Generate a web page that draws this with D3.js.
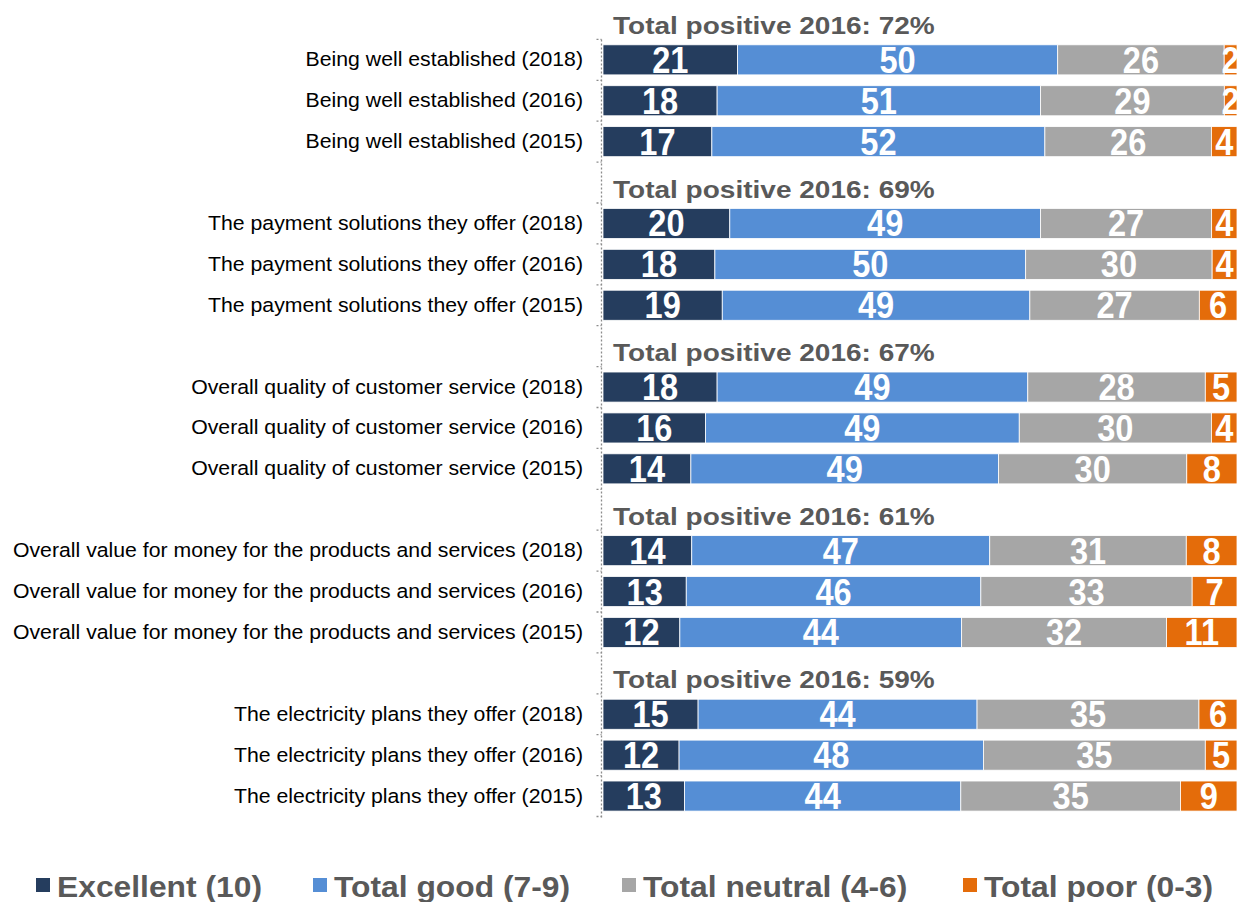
<!DOCTYPE html>
<html>
<head>
<meta charset="utf-8">
<script src="https://cdn.jsdelivr.net/npm/d3@7"></script>
<style>
  html, body { margin: 0; padding: 0; background: #fff; }
  svg { display: block; }
</style>
</head>
<body>
<svg id="chart" width="1243" height="902"></svg>
<script>
const groupNames = [
  "Being well established",
  "The payment solutions they offer",
  "Overall quality of customer service",
  "Overall value for money for the products and services",
  "The electricity plans they offer"
];
const years = ["2018", "2016", "2015"];
const totalPositive2016 = [72, 69, 67, 61, 59];
const seriesNames = ["Excellent (10)", "Total good (7-9)", "Total neutral (4-6)", "Total poor (0-3)"];
const excellent = [21, 18, 17, 20, 18, 19, 18, 16, 14, 14, 13, 12, 15, 12, 13];
const good      = [50, 51, 52, 49, 50, 49, 49, 49, 49, 47, 46, 44, 44, 48, 44];
const neutral   = [26, 29, 26, 27, 30, 27, 28, 30, 30, 31, 33, 32, 35, 35, 35];
const poor      = [ 2,  2,  4,  4,  4,  6,  5,  4,  8,  8,  7, 11,  6,  5,  9];
const colors = ["#253D5E", "#558ED5", "#A6A6A6", "#E46C0A"];

const rows = [];
let k = 0;
groupNames.forEach((g, gi) => {
  rows.push({ id: "h" + gi, type: "header", text: "Total positive 2016: " + totalPositive2016[gi] + "%" });
  years.forEach(y => {
    const vals = [excellent[k], good[k], neutral[k], poor[k]];
    rows.push({ id: "r" + k, type: "bar", label: g + " (" + y + ")", vals });
    k++;
  });
});

const FONT = "'Liberation Sans', Arial, sans-serif";
const svg = d3.select("#chart");
const x0 = 603, x1 = 1237;
const x = d3.scaleLinear().domain([0, 1]).range([x0, x1]);
const y = d3.scaleBand().domain(rows.map(r => r.id)).range([-1.5, 816.5])
  .paddingInner(0.265).paddingOuter(0.1325);
const step = y.step();

// dotted axis with ticks at category boundaries
const axisG = svg.append("g");
const axisX = 601.5;
const boundaries = d3.range(1, rows.length + 1).map(i => -1.5 + i * step);
axisG.append("line")
  .attr("x1", axisX).attr("x2", axisX)
  .attr("y1", boundaries[0]).attr("y2", boundaries[boundaries.length - 1] + 1)
  .attr("stroke", "#8c8c8c").attr("stroke-width", 1.3).attr("stroke-dasharray", "2,2");
axisG.selectAll("line.tick").data(boundaries).join("line")
  .attr("class", "tick")
  .attr("x1", axisX - 5).attr("x2", axisX)
  .attr("y1", d => d).attr("y2", d => d)
  .attr("stroke", "#8c8c8c").attr("stroke-width", 1.3).attr("stroke-dasharray", "2,2");

const barRows = rows.filter(r => r.type === "bar");

// bars
const rowG = svg.selectAll("g.row").data(barRows).join("g").attr("class", "row");
rowG.each(function(r) {
  const total = d3.sum(r.vals);
  let acc = 0;
  const segs = r.vals.map((v, i) => { const s = { v, i, a: acc / total, b: (acc + v) / total }; acc += v; return s; });
  const g = d3.select(this);
  g.selectAll("rect").data(segs).join("rect")
    .attr("x", s => x(s.a)).attr("width", s => x(s.b) - x(s.a))
    .attr("y", y(r.id)).attr("height", y.bandwidth())
    .attr("fill", s => colors[s.i])
    .attr("stroke", "#ffffff").attr("stroke-width", 0.8);
  g.selectAll("text").data(segs).join("text")
    .attr("transform", s => `translate(${(x(s.a) + x(s.b)) / 2},${y(r.id) + y.bandwidth() / 2 + 13}) scale(0.88,1)`)
    .attr("text-anchor", "middle")
    .attr("font-family", FONT)
    .attr("font-weight", "bold")
    .attr("font-size", 37)
    .attr("fill", "#ffffff")
    .text(s => s.v);
});

// category labels
svg.selectAll("text.cat").data(barRows).join("text")
  .attr("class", "cat")
  .attr("transform", r => `translate(583,${y(r.id) + y.bandwidth() / 2 + 6.5}) scale(1.09,1)`)
  .attr("text-anchor", "end")
  .attr("font-family", FONT)
  .attr("font-size", 19.5)
  .attr("fill", "#000")
  .text(r => r.label);

// group headers
svg.selectAll("text.hdr").data(rows.filter(r => r.type === "header")).join("text")
  .attr("class", "hdr")
  .attr("transform", r => `translate(613,${y(r.id) + y.bandwidth() / 2 + 15}) scale(1.13,1)`)
  .attr("font-family", FONT)
  .attr("font-weight", "bold")
  .attr("font-size", 24.8)
  .attr("fill", "#595959")
  .text(r => r.text);

// legend
const legendX = [36, 313, 622, 963];
const leg = svg.selectAll("g.leg").data(seriesNames).join("g").attr("class", "leg")
  .attr("transform", (d, i) => `translate(${legendX[i]},878)`);
leg.append("rect").attr("x", 0).attr("y", 0).attr("width", 14).attr("height", 14)
  .attr("fill", (d, i) => colors[i]);
leg.append("text")
  .attr("transform", "translate(21,18.5) scale(1.06,1)")
  .attr("font-family", FONT)
  .attr("font-weight", "bold")
  .attr("font-size", 30)
  .attr("fill", "#595959")
  .text(d => d);
</script>
</body>
</html>
